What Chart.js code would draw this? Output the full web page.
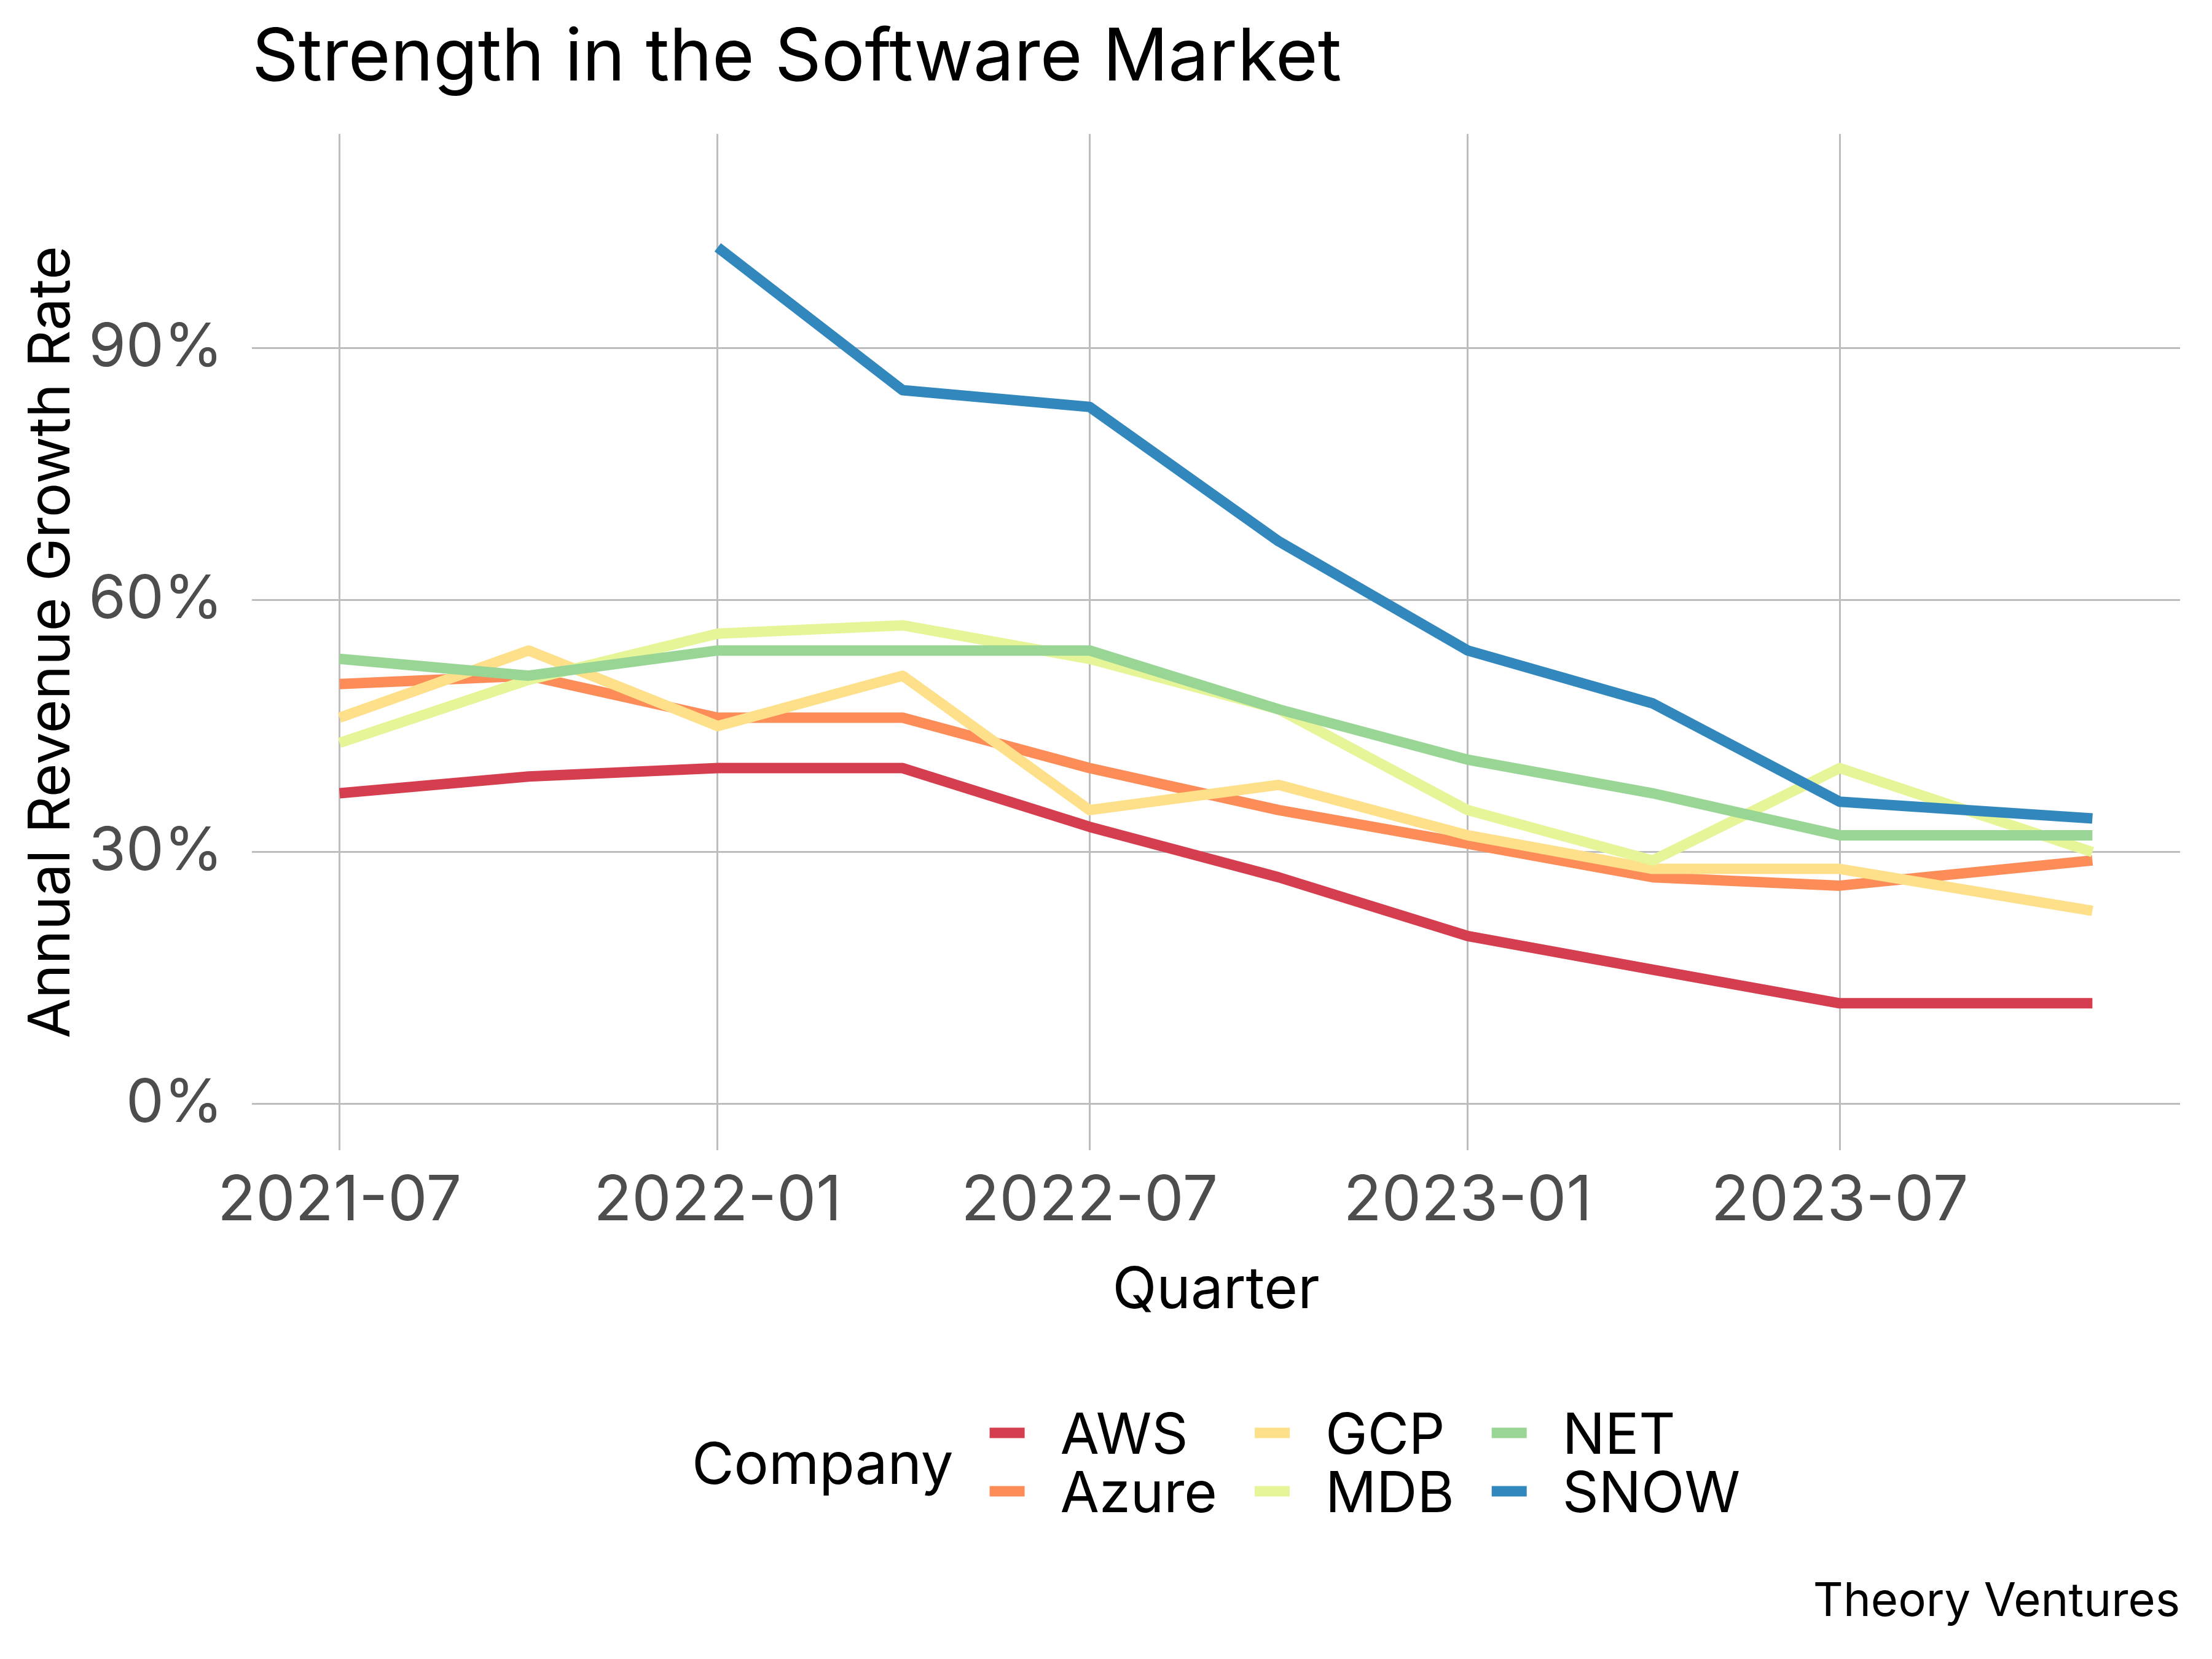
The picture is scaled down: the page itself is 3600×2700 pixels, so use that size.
<!DOCTYPE html>
<html>
<head>
<meta charset="utf-8">
<script src="https://cdn.jsdelivr.net/npm/chart.js@4.4.1/dist/chart.umd.min.js"></script>
<style>
  html, body { margin: 0; padding: 0; background: #fff; }
  canvas { display: block; }
</style>
</head>
<body>
<canvas id="chart" width="3600" height="2700"></canvas>
<script>
// Quarterly revenue growth
const quarters = ['2021-07-01', '2021-10-01', '2022-01-01', '2022-04-01', '2022-07-01',
                  '2022-10-01', '2023-01-01', '2023-04-01', '2023-07-01', '2023-11-01'];
const companies = ['AWS', 'Azure', 'GCP', 'MDB', 'NET', 'SNOW'];
const awsGrowth   = [37, 39, 40, 40, 33, 27, 20, 16, 12, 12];
const azureGrowth = [50, 51, 46, 46, 40, 35, 31, 27, 26, 29];
const gcpGrowth   = [46, 54, 45, 51, 35, 38, 32, 28, 28, 23];
const mdbGrowth   = [43, 50.5, 56, 57, 53, 47, 35, 29, 40, 30];
const netGrowth   = [53, 51, 54, 54, 54, 47, 41, 37, 32, 32];
const snowGrowth  = [null, null, 102, 85, 83, 67, 54, 47.7, 36, 34];

const xTickDates = ['2021-07-01', '2022-01-01', '2022-07-01', '2023-01-01', '2023-07-01'];
const yTicks = [0, 30, 60, 90];

// Spectral palette, one per company
const companyColors = ['#d53e4f', '#fc8d59', '#fee08b', '#e6f598', '#99d594', '#3288bd'];

const chartTitle = 'Strength in the Software Market';
const chartCaption = 'Theory Ventures';
const legendTitle = 'Company';
const FONT = 'Inter';

const dayOf = s => Date.parse(s) / 86400000;
const firstDay = dayOf(quarters[0]);
const lastDay = dayOf(quarters[quarters.length - 1]);
const xPad = (lastDay - firstDay) * 0.05;

const seriesValues = [awsGrowth, azureGrowth, gcpGrowth, mdbGrowth, netGrowth, snowGrowth];

const datasets = companies.map((name, i) => ({
    label: name,
    data: quarters.map((q, j) => ({ x: dayOf(q), y: seriesValues[i][j] })),
    borderColor: companyColors[i],
    backgroundColor: companyColors[i],
    borderWidth: 17,
    borderJoinStyle: 'round',
    borderCapStyle: 'butt',
    pointRadius: 0,
    pointHoverRadius: 0,
    tension: 0,
    fill: false,
    // later companies are drawn on top, like ggplot
    order: companies.length - i
}));

function formatMonth(v) {
    const d = new Date(v * 86400000);
    return d.getUTCFullYear() + '-' + String(d.getUTCMonth() + 1).padStart(2, '0');
}

// Title, caption and the 2-row legend drawn in ggplot layout
const decorPlugin = {
    id: 'ggDecor',
    afterDraw(chart) {
        const ctx = chart.ctx;
        const area = chart.chartArea;
        ctx.save();
        ctx.fillStyle = '#000';
        ctx.textBaseline = 'alphabetic';

        ctx.textAlign = 'left';
        ctx.font = `118px ${FONT}`;
        ctx.fillText(chartTitle, area.left, 131);

        ctx.textAlign = 'right';
        ctx.font = `76px ${FONT}`;
        ctx.fillText(chartCaption, area.right, 2630);

        // legend
        const items = chart.data.datasets.map(ds => ({ label: ds.label, color: ds.borderColor, lw: ds.borderWidth }));
        const rows = 2;
        const cols = Math.ceil(items.length / rows);
        const rowY = [2332, 2427];
        const keyLen = 57, keyGap = 58, colGap = 61, titleGap = 59;

        ctx.font = `92px ${FONT}`;
        const colW = [];
        for (let c = 0; c < cols; c++) {
            let w = 0;
            for (let r = 0; r < rows; r++) {
                const it = items[c * rows + r];
                if (it) w = Math.max(w, ctx.measureText(it.label).width);
            }
            colW.push(w);
        }
        ctx.font = `94px ${FONT}`;
        const titleW = ctx.measureText(legendTitle).width;
        let total = titleW + titleGap;
        colW.forEach((w, c) => { total += keyLen + keyGap + w + (c < cols - 1 ? colGap : 0); });

        let x = (area.left + area.right) / 2 - total / 2;
        ctx.textAlign = 'left';
        ctx.fillText(legendTitle, x, (rowY[0] + rowY[1]) / 2 + 35);
        x += titleW + titleGap;

        ctx.font = `92px ${FONT}`;
        for (let c = 0; c < cols; c++) {
            for (let r = 0; r < rows; r++) {
                const it = items[c * rows + r];
                if (!it) continue;
                ctx.fillStyle = it.color;
                ctx.fillRect(x, rowY[r] - it.lw / 2, keyLen, it.lw);
                ctx.fillStyle = '#000';
                ctx.fillText(it.label, x + keyLen + keyGap, rowY[r] + 34);
            }
            x += keyLen + keyGap + colW[c] + colGap;
        }
        ctx.restore();
    }
};

const gridStyle = { color: '#bdbdbd', lineWidth: 3, drawTicks: false };

new Chart(document.getElementById('chart'), {
    type: 'line',
    data: { datasets: datasets },
    options: {
        responsive: false,
        devicePixelRatio: 1,
        animation: false,
        layout: { padding: { top: 218, right: 52, bottom: 528, left: 0 } },
        plugins: {
            legend: { display: false },
            title: { display: false },
            tooltip: { enabled: false }
        },
        scales: {
            x: {
                type: 'linear',
                min: firstDay - xPad,
                max: lastDay + xPad,
                afterBuildTicks: s => { s.ticks = xTickDates.map(d => ({ value: dayOf(d) })); },
                afterFit: s => { s.height = 300; },
                grid: gridStyle,
                border: { display: false },
                ticks: {
                    padding: 22,
                    color: '#4d4d4d',
                    font: { family: FONT, size: 102 },
                    maxRotation: 0,
                    autoSkip: false,
                    callback: v => formatMonth(v)
                },
                title: {
                    display: true,
                    text: 'Quarter',
                    color: '#000',
                    font: { family: FONT, size: 94 },
                    padding: { top: 0, bottom: 15 }
                }
            },
            y: {
                min: -5.5,
                max: 115.5,
                afterBuildTicks: s => { s.ticks = yTicks.map(v => ({ value: v })); },
                afterFit: s => { s.width = 410; },
                grid: gridStyle,
                border: { display: false },
                ticks: {
                    padding: 47,
                    color: '#4d4d4d',
                    font: { family: FONT, size: 98 },
                    callback: v => v + '%'
                },
                title: {
                    display: true,
                    text: 'Annual Revenue Growth Rate',
                    color: '#000',
                    font: { family: FONT, size: 94 },
                    padding: { top: 28, bottom: 0 }
                }
            }
        }
    },
    plugins: [decorPlugin]
});
</script>
</body>
</html>
